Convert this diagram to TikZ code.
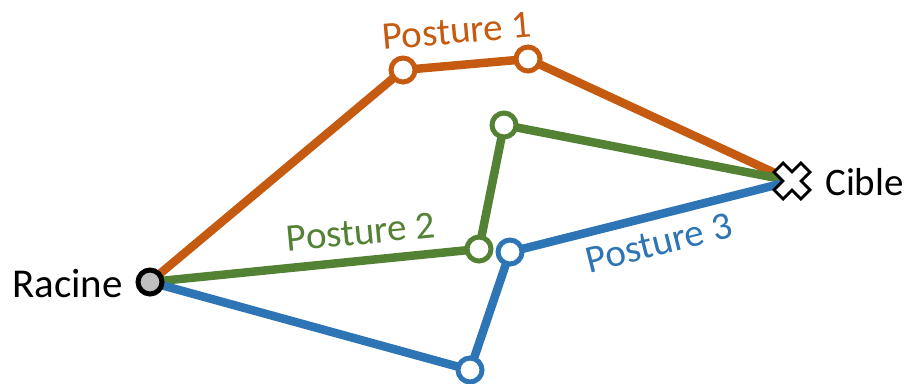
\documentclass[tikz,border=0pt]{standalone}
\usepackage{fontspec}
\setmainfont{Carlito}
\usetikzlibrary{backgrounds}
\definecolor{corange}{HTML}{C55A11}
\definecolor{cgreen}{HTML}{548235}
\definecolor{cblue}{HTML}{2E75B6}
\definecolor{cgrey}{HTML}{BFBFBF}
\begin{document}
\begin{tikzpicture}[x=1pt,y=-1pt,
  joint/.style={circle,draw=#1,fill=white,line width=5pt,minimum size=24pt,inner sep=0pt},
  link/.style={draw=#1,line width=8.5pt},
  lbl/.style={font=\fontsize{39}{46}\selectfont,inner sep=0pt}]
\useasboundingbox (0,0) rectangle (909,383);
% nodes
\node[circle,draw=black,fill=cgrey,line width=5pt,minimum size=24pt,inner sep=0pt] (root) at (150,282) {};
\coordinate (cible) at (792,181);
\node[joint=corange] (o1) at (403,70) {};
\node[joint=corange] (o2) at (528,59) {};
\node[joint=cgreen] (g1) at (479,249) {};
\node[joint=cgreen] (g2) at (504,125) {};
\node[joint=cblue] (b1) at (470,370) {};
\node[joint=cblue] (b2) at (510,252) {};
% links
\begin{scope}[on background layer]
\draw[link=corange] (root.center) -- (o1.center) -- (o2.center) -- (cible);
\draw[link=cgreen] (root.center) -- (g1.center) -- (g2.center) -- (cible);
\draw[link=cblue] (root.center) -- (b1.center) -- (b2.center) -- (cible);
\end{scope}
% target cross
\draw[black,fill=white,line width=2.8pt,line join=miter,shift={(cible)},rotate=45]
  (6.5,19) -- (6.5,6.5) -- (19,6.5) -- (19,-6.5) -- (6.5,-6.5) -- (6.5,-19) -- (-6.5,-19) -- (-6.5,-6.5)
  -- (-19,-6.5) -- (-19,6.5) -- (-6.5,6.5) -- (-6.5,19) -- cycle;
% labels
\node[lbl,anchor=east,font=\fontsize{41}{48}\selectfont] (tr) at (123,284) {Racine};
\node[lbl,anchor=west] (tc) at (825,182) {Cible};
\node[lbl,text=corange,rotate=5] (p1) at (457,31) {Posture 1};
\node[lbl,text=cgreen,rotate=5.5] (p2) at (361,232) {Posture 2};
\node[lbl,text=cblue,rotate=14] (p3) at (659,243) {Posture 3};
\end{tikzpicture}
\end{document}
